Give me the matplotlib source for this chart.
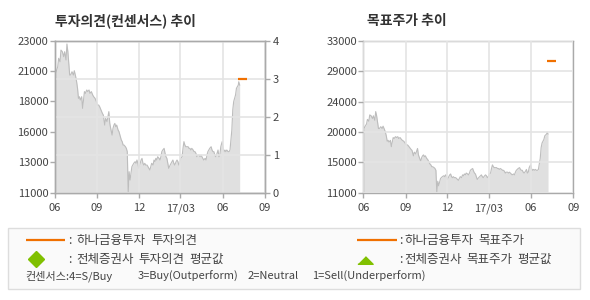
import numpy as np
import matplotlib
matplotlib.use('Agg')
import matplotlib.pyplot as plt
from matplotlib.lines import Line2D
from matplotlib.patches import Rectangle

plt.rcParams['font.family'] = ['Noto Sans CJK KR', 'DejaVu Sans']

# ---------------- data ----------------
start_date = '2016-06-01'
day_offsets = [
    0, 7, 9, 12, 14, 17, 20, 22, 25, 27, 29, 31, 33, 35, 38, 41, 43, 46, 48, 50,
    52, 54, 56, 59, 61, 63, 65, 67, 70, 72, 75, 77, 80, 83, 85, 88, 91, 93, 96, 98,
    101, 104, 106, 109, 111, 114, 116, 118, 120, 122, 125, 127, 129, 131, 133, 135, 138, 140, 143, 145,
    147, 149, 151, 154, 156, 158, 160,
    162, 164, 166, 168, 170, 172, 175, 177, 179, 181, 183, 185, 188, 190, 192, 194, 196, 198, 201, 203,
    205, 207, 209, 211, 214, 216, 218, 220, 222, 224, 227, 229, 231, 233, 235, 238, 240, 242, 244, 246,
    248, 251, 253, 255, 257, 259, 261, 264, 266, 268, 270, 272, 274, 277, 279, 281, 283, 285, 287, 290,
    292, 294, 296, 298, 301, 303, 305, 307, 309, 311, 314, 316, 318, 320, 322, 324, 327, 329, 331, 333,
    335, 337, 340, 342, 344, 346, 348, 350, 353, 355, 357, 359, 361, 364, 366, 368, 370, 372, 374, 377,
    379, 381, 383,
    385, 387, 389, 391, 393, 395, 397, 399, 400, 402,
]
prices = [
    20160, 20950, 21610, 21340, 22260, 22130, 21740, 22130, 21480, 22740, 22130, 21210, 20290, 20290, 20550, 20290, 20630, 20160, 19760, 19240,
    18450, 18580, 18320, 18580, 17660, 18320, 18980, 18840, 19110, 18980, 19110, 18840, 18980, 18710, 18580, 18450, 18190, 17920, 17920, 17790,
    17530, 17260, 17130, 16340, 16870, 16610, 17000, 17400, 16470, 16080, 15550, 16080, 16340, 16470, 16210, 16340, 15950, 15820, 15420, 15160,
    15030, 14760, 14760, 14630, 14500, 14240, 11080,
    12660, 12000, 12530, 13050, 13180, 13320, 13450, 13320, 13580, 13320, 12920, 13180, 13580,
    13710, 13320, 13180, 13320, 13180, 13180, 13050, 12920, 12790, 13050, 13320, 13180, 13580, 13450, 13710, 13580, 13840, 13710, 13580, 13840,
    14240, 14370, 14500, 14110, 13840, 13710, 13320, 12920, 13180, 13320, 13450, 13580, 13320, 13180, 13450, 13580, 13450, 13180, 13320, 13710,
    13840, 14500, 15030, 14760, 14630, 14630, 14630, 14500, 14500, 14370, 14500, 14370, 14240, 14240, 14110, 13840, 13970, 13970, 13840, 13970,
    13840, 13710, 13580, 13710, 13580, 13970, 14240, 14370, 14500, 14630, 14370, 14240, 14240, 13970, 13840, 14110, 14370, 13840, 13970, 14630,
    15030, 14500, 14240, 14370, 14240, 14370, 14240, 14240, 14370, 15160,
    15950, 17530, 18190, 18450, 18710, 19240, 19370, 19500, 19760, 19500,
]

hana_dates = ['2017-07-05', '2017-07-23']
hana_opinion = [3, 3]
hana_target_dates = ['2017-07-05', '2017-07-25']
hana_target = [30000, 30000]

xtick_dates = ['2016-06-01', '2016-09-01', '2016-12-01', '2017-03-01', '2017-06-01', '2017-09-01']
xtick_labels = ['06', '09', '12', '17/03', '06', '09']

left_ylim = (11000, 23000)
left_ylabels = ['11000', '13000', '16000', '18000', '21000', '23000']
opinion_ticks = [0, 1, 2, 3, 4]
right_ylim = (11000, 33000)
right_ylabels = ['11000', '15000', '20000', '24000', '29000', '33000']

title_left = '투자의견(컨센서스) 추이'
title_right = '목표주가 추이'

# legend texts (split into words as laid out in the original)
leg_left_row1 = ['하나금융투자', '투자의견']
leg_left_row2 = ['전체증권사', '투자의견', '평균값']
leg_right_row1 = ['하나금융투자', '목표주가']
leg_right_row2 = ['전체증권사', '목표주가', '평균값']
consensus_parts = ['컨센서스:4=S/Buy', '3=Buy(Outperform)', '2=Neutral', '1=Sell(Underperform)']

# ---------------- styling ----------------
FILL = '#e0e0e0'
LINE = '#bdbdbd'
GRID = '#e4e4e4'
SPINE = '#aaaaaa'
TXT = '#444444'
ORANGE = '#f07000'
GREEN = '#80c000'

W, H = 590, 300
fig = plt.figure(figsize=(W / 100, H / 100), dpi=100)

dates = np.datetime64(start_date) + np.array(day_offsets).astype('timedelta64[D]')
xt = np.array(xtick_dates, dtype='datetime64[D]')


def style_axes(ax):
    for s in ax.spines.values():
        s.set_color(SPINE)
        s.set_linewidth(1.0)
    ax.tick_params(colors=SPINE, labelcolor=TXT, labelsize=8, length=3.5, width=1)


def setup_price_axes(ax, ylim, ylabels):
    ax.fill_between(dates, prices, ylim[0], color=FILL, lw=0, zorder=1)
    ax.plot(dates, prices, color=LINE, lw=0.8, zorder=1.5)
    ax.set_xlim(xt[0], xt[-1])
    ax.set_ylim(*ylim)
    ax.set_xticks(xt)
    ax.set_xticklabels(xtick_labels)
    ax.set_yticks(np.linspace(ylim[0], ylim[1], len(ylabels)))
    ax.set_yticklabels(ylabels)
    ax.tick_params(axis='x', pad=4)
    ax.tick_params(axis='y', pad=1)
    ax.grid(axis='x', color=GRID, lw=1.2, zorder=2)
    ax.set_axisbelow(False)
    style_axes(ax)


# left chart
axL = fig.add_axes([54.5 / W, (H - 192.7) / H, 210.5 / W, 152 / H])
setup_price_axes(axL, left_ylim, left_ylabels)
axL2 = axL.twinx()
axL2.set_ylim(0, 4)
axL2.set_yticks(opinion_ticks)
axL2.grid(axis='y', color=GRID, lw=1.2)
axL2.plot(np.array(hana_dates, dtype='datetime64[D]'), hana_opinion, color=ORANGE, lw=1.6,
          solid_capstyle='butt', zorder=5)
axL2.tick_params(axis='y', pad=2)
style_axes(axL2)
axL2.set_xlim(xt[0], xt[-1])

# right chart
axR = fig.add_axes([363.3 / W, (H - 192.7) / H, 210 / W, 152 / H])
setup_price_axes(axR, right_ylim, right_ylabels)
axR.grid(axis='y', color=GRID, lw=1.2, zorder=2)
axR.plot(np.array(hana_target_dates, dtype='datetime64[D]'), hana_target, color=ORANGE, lw=1.6,
         solid_capstyle='butt', zorder=5)

# titles
fig.text(55 / W, 1 - 20.5 / H, title_left, fontsize=10, fontweight='bold', color='#333333',
         ha='left', va='center')
fig.text(367 / W, 1 - 20.5 / H, title_right, fontsize=10, fontweight='bold', color='#333333',
         ha='left', va='center')

# legend box
box = Rectangle((8 / W, (H - 289) / H), 572 / W, 61 / H, transform=fig.transFigure,
                facecolor='#fafafa', edgecolor='#dddddd', lw=1.0)
fig.patches.append(box)


def fx(px):
    return px / W


def fy(py):
    return 1 - py / H


LFS = 9.0
fig.lines.append(Line2D([fx(26), fx(65)], [fy(240), fy(240)], color=ORANGE, lw=1.6,
                        transform=fig.transFigure, solid_capstyle='butt'))
fig.lines.append(Line2D([fx(357), fx(397)], [fy(240), fy(240)], color=ORANGE, lw=1.6,
                        transform=fig.transFigure, solid_capstyle='butt'))
fig.lines.append(Line2D([fx(35.5)], [fy(259.3)], marker='D', ms=8, color=GREEN, lw=0,
                        transform=fig.transFigure))
fig.lines.append(Line2D([fx(365)], [fy(259.5)], marker=[(-1, -0.5), (1, -0.5), (0, 0.5)], ms=11,
                        color=GREEN, lw=0, transform=fig.transFigure))

renderer = fig.canvas.get_renderer()


def put_words(words, x0, y, gap):
    x = x0
    for w in words:
        t = fig.text(fx(x), fy(y), w, fontsize=LFS, color=TXT, va='center', ha='left')
        bb = t.get_window_extent(renderer=renderer)
        x = x + bb.width + gap


ROW1, ROW2, ROW3 = 240.7, 259.2, 276
for y in (ROW1, ROW2):
    fig.text(fx(68), fy(y), ':', fontsize=LFS, color=TXT, va='center', ha='left')
    fig.text(fx(399), fy(y), ':', fontsize=LFS, color=TXT, va='center', ha='left')
put_words(leg_left_row1, 76, ROW1, 6)
put_words(leg_left_row2, 76, ROW2, 5)
put_words(leg_right_row1, 404, ROW1, 5)
put_words(leg_right_row2, 404, ROW2, 5)

consensus_x = [25, 138, 248, 312]
for t, x in zip(consensus_parts, consensus_x):
    fig.text(fx(x), fy(ROW3), t, fontsize=8, color=TXT, va='center', ha='left')

fig.savefig('out.png', dpi=100)
